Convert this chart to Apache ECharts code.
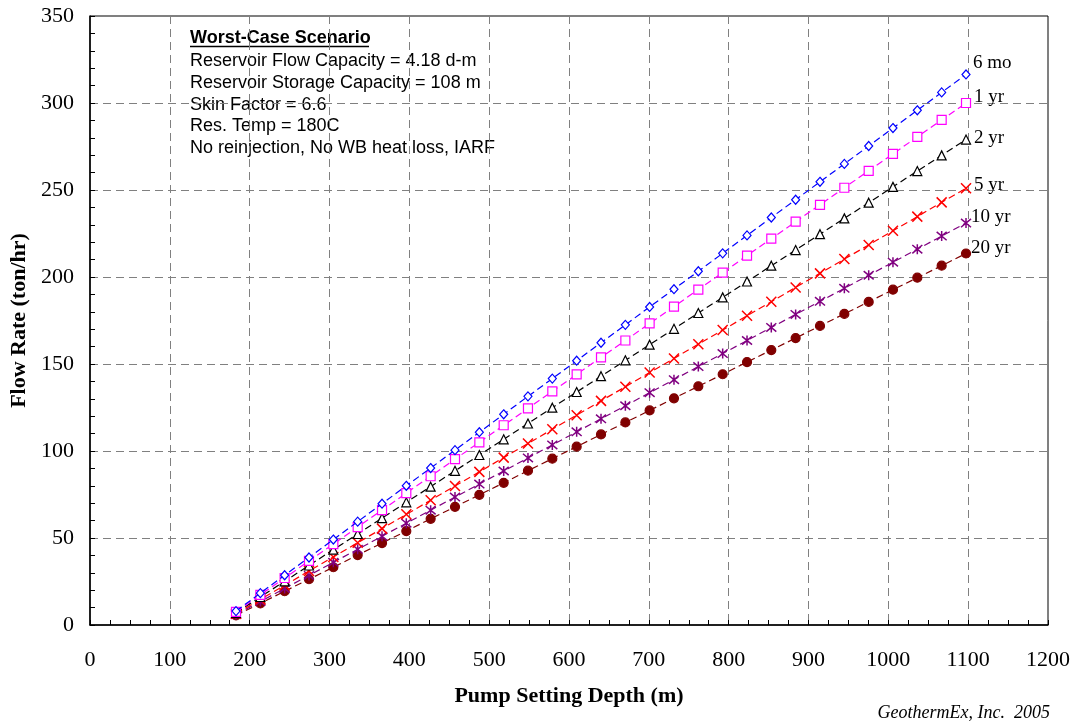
<!DOCTYPE html>
<html>
<head>
<meta charset="utf-8">
<script src="https://cdn.jsdelivr.net/npm/echarts@6/dist/echarts.min.js"></script>
<style>html,body{margin:0;padding:0;background:#fff}#c{width:1074px;height:723px}</style>
</head>
<body>
<div id="c"></div>
<script>
const depths = [182.9, 213.4, 243.8, 274.3, 304.8, 335.3, 365.8, 396.2, 426.7, 457.2, 487.7, 518.2, 548.6, 579.1, 609.6, 640.1, 670.6, 701.0, 731.5, 762.0, 792.5, 823.0, 853.4, 883.9, 914.4, 944.9, 975.4, 1005.8, 1036.3, 1066.8, 1097.3];
const mo6  = [8.0, 18.3, 28.6, 38.8, 49.1, 59.4, 69.7, 80.0, 90.2, 100.5, 110.8, 121.1, 131.4, 141.6, 151.9, 162.2, 172.5, 182.8, 193.0, 203.3, 213.6, 223.9, 234.2, 244.4, 254.7, 265.0, 275.3, 285.6, 295.8, 306.1, 316.4];
const yr1  = [7.5, 17.3, 27.0, 36.8, 46.5, 56.3, 66.0, 75.8, 85.5, 95.3, 105.0, 114.8, 124.5, 134.3, 144.0, 153.8, 163.5, 173.3, 183.0, 192.8, 202.5, 212.3, 222.0, 231.8, 241.5, 251.3, 261.0, 270.8, 280.5, 290.3, 300.0];
const yr2  = [7.0, 16.1, 25.1, 34.2, 43.3, 52.3, 61.4, 70.5, 79.5, 88.6, 97.7, 106.7, 115.8, 124.9, 133.9, 143.0, 152.1, 161.1, 170.2, 179.3, 188.3, 197.4, 206.5, 215.5, 224.6, 233.7, 242.7, 251.8, 260.9, 269.9, 279.0];
const yr5  = [6.5, 14.7, 22.8, 31.0, 39.1, 47.3, 55.4, 63.6, 71.7, 79.9, 88.0, 96.2, 104.3, 112.5, 120.6, 128.8, 136.9, 145.1, 153.2, 161.4, 169.5, 177.7, 185.8, 194.0, 202.1, 210.3, 218.4, 226.6, 234.7, 242.9, 251.0];
const yr10 = [6.0, 13.5, 21.0, 28.5, 36.0, 43.5, 51.0, 58.5, 66.0, 73.5, 81.0, 88.5, 96.0, 103.5, 111.0, 118.5, 126.0, 133.5, 141.0, 148.5, 156.0, 163.5, 171.0, 178.5, 186.0, 193.5, 201.0, 208.5, 216.0, 223.5, 231.0];
const yr20 = [5.5, 12.4, 19.4, 26.3, 33.2, 40.2, 47.1, 54.0, 61.0, 67.9, 74.8, 81.7, 88.7, 95.6, 102.5, 109.5, 116.4, 123.3, 130.3, 137.2, 144.1, 151.1, 158.0, 164.9, 171.9, 178.8, 185.7, 192.7, 199.6, 206.5, 213.5];
const seriesNames = ['6 mo', '1 yr', '2 yr', '5 yr', '10 yr', '20 yr'];
const noteLines = ['Reservoir Flow Capacity = 4.18 d-m', 'Reservoir Storage Capacity = 108 m', 'Skin Factor = 6.6', 'Res. Temp = 180C', 'No reinjection, No WB heat loss, IARF'];
const noteTitle = 'Worst-Case Scenario';

const serif = '"Liberation Serif", "Times New Roman", serif';
const sans = '"Liberation Sans", Arial, sans-serif';
const crossPath = 'path://M0,0L10,10M10,0L0,10';
const starPath = 'path://M0,0L10,10M10,0L0,10M5,-1L5,11';

const styles = [
  {data: mo6, color: '#0000FF', symbol: 'diamond', size: [8, 9], fill: 'none', off: [5, -11]},
  {data: yr1, color: '#FF00FF', symbol: 'rect', size: 9, fill: 'none', off: [6, -6]},
  {data: yr2, color: '#000000', symbol: 'triangle', size: 9, fill: 'none', off: [6, -2]},
  {data: yr5, color: '#FF0000', symbol: crossPath, size: 10, fill: 'none', off: [6, -3]},
  {data: yr10, color: '#800080', symbol: starPath, size: 10, fill: 'none', off: [3, -6]},
  {data: yr20, color: '#800000', symbol: 'circle', size: 9, fill: '#800000', off: [3, -5]}
];

const series = styles.map((s, i) => ({
  name: seriesNames[i],
  type: 'line',
  data: depths.map((d, j) => [d, s.data[j]]),
  symbol: s.symbol,
  symbolSize: s.size,
  showAllSymbol: true,
  animation: false,
  lineStyle: {color: s.color, width: 1.2, type: [7, 4]},
  itemStyle: {color: s.fill === 'none' ? '#fff' : s.fill, borderColor: s.color, borderWidth: 1.2, opacity: 1},
  z: 10 - i,
  endLabel: {show: true, formatter: seriesNames[i], fontFamily: serif, fontSize: 19, color: '#000', offset: s.off, distance: 2}
}));
series[3].itemStyle = {color: 'none', borderColor: '#FF0000', borderWidth: 1.5};
series[4].itemStyle = {color: 'none', borderColor: '#800080', borderWidth: 1.5};

const graphics = [
  {type: 'text', left: 190, top: 29, style: {text: noteTitle, font: 'bold 18px ' + sans, fill: '#000'}},
  {type: 'line', shape: {x1: 190, y1: 46.5, x2: 369, y2: 46.5}, style: {stroke: '#000', lineWidth: 1.4}},
  {type: 'text', right: 24, top: 704, style: {text: 'GeothermEx, Inc.  2005', font: 'italic 18px ' + serif, fill: '#000'}}
];
noteLines.forEach((t, i) => graphics.push({type: 'text', left: 190, top: 52 + i * 21.8, style: {text: t, font: '18px ' + sans, fill: '#000'}}));

const chart = echarts.init(document.getElementById('c'), null, {renderer: 'canvas'});
chart.setOption({
  backgroundColor: '#fff',
  animation: false,
  grid: {left: 89, right: 26, top: 16, bottom: 98, show: true, borderColor: '#000', borderWidth: 1, backgroundColor: 'transparent'},
  xAxis: {
    type: 'value', min: 0, max: 1200, interval: 100,
    name: 'Pump Setting Depth (m)', nameLocation: 'middle', nameGap: 60,
    nameTextStyle: {fontFamily: serif, fontWeight: 'bold', fontSize: 22, color: '#000'},
    axisLine: {show: true, lineStyle: {color: '#000', width: 1.5}},
    axisTick: {show: true, inside: false, length: -5, lineStyle: {color: '#000'}},
    minorTick: {show: true, splitNumber: 4, length: -5, lineStyle: {color: '#000'}},
    axisLabel: {fontFamily: serif, fontSize: 22, color: '#000', margin: 24, formatter: v => String(v)},
    splitLine: {show: true, lineStyle: {color: '#808080', type: [8, 5], width: 1}}
  },
  yAxis: {
    type: 'value', min: 0, max: 350, interval: 50,
    name: 'Flow Rate (ton/hr)', nameLocation: 'middle', nameGap: 60,
    nameTextStyle: {fontFamily: serif, fontWeight: 'bold', fontSize: 22, color: '#000'},
    axisLine: {show: true, lineStyle: {color: '#000', width: 1.5}},
    axisTick: {show: true, inside: false, length: -5, lineStyle: {color: '#000'}},
    minorTick: {show: true, splitNumber: 5, length: -5, lineStyle: {color: '#000'}},
    axisLabel: {fontFamily: serif, fontSize: 22, color: '#000', margin: 16, formatter: v => String(v)},
    splitLine: {show: true, lineStyle: {color: '#808080', type: [8, 5], width: 1}}
  },
  graphic: graphics,
  series: series
});
</script>
</body>
</html>
